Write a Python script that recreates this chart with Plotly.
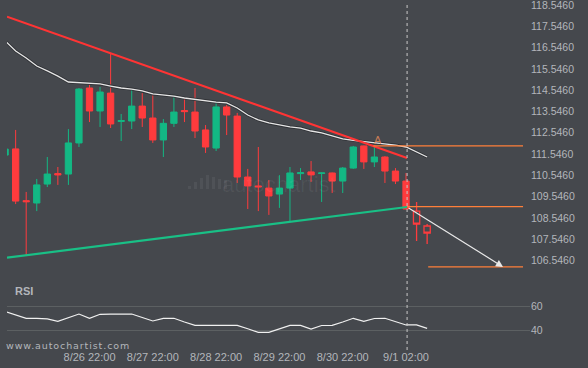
import plotly.graph_objects as go

# ---- data ----
idx = list(range(-8, 31))
opens = [111.50, 111.79, 109.36, 109.25, 110.14, 110.63, 110.61, 112.07, 114.65, 113.57,
         114.41, 113.08, 113.10, 113.80, 113.24, 112.21, 112.99, 113.59, 113.52, 112.68,
         111.83, 113.76, 113.33, 110.47, 110.05, 109.95, 109.67, 109.95, 110.63, 110.71,
         110.64, 110.66, 110.28, 110.89, 111.93, 111.18, 111.41, 110.75, 110.28]
highs = [111.80, 112.68, 109.77, 110.38, 111.41, 110.94, 112.72, 114.65, 114.84, 114.70,
         116.29, 113.43, 114.60, 114.41, 114.32, 113.19, 114.23, 114.13, 114.65, 112.91,
         113.95, 113.85, 113.48, 110.85, 111.88, 110.33, 110.56, 110.94, 110.89, 111.22,
         110.68, 110.68, 110.94, 111.93, 111.95, 111.88, 111.45, 110.89, 110.66]
lows = [111.45, 109.20, 106.76, 108.87, 110.00, 110.10, 110.10, 111.88, 113.05, 112.82,
        112.77, 112.16, 112.72, 112.82, 112.07, 111.41, 112.82, 113.05, 112.30, 111.60,
        111.69, 112.44, 110.19, 108.97, 108.87, 108.69, 109.02, 108.40, 110.33, 110.24,
        109.30, 109.72, 109.72, 110.85, 110.85, 110.94, 110.19, 110.14, 108.95]
closes = [111.78, 109.34, 109.31, 110.10, 110.61, 110.57, 112.07, 114.60, 113.57, 114.46,
          112.96, 113.12, 113.80, 113.24, 112.21, 112.99, 113.52, 113.54, 112.63, 111.88,
          113.76, 113.38, 110.47, 110.05, 110.01, 109.58, 109.95, 110.66, 110.67, 110.57,
          110.66, 110.28, 110.89, 111.88, 111.18, 111.41, 110.75, 110.28, 108.97]

fc_idx = [31, 32]
fc_open = [108.87, 108.17]
fc_high = [109.30, 108.26]
fc_low = [107.47, 107.33]
fc_close = [108.26, 107.84]

ma_idx = list(range(-8, 33))
ma_vals = [116.86, 116.39, 116.06, 115.68, 115.45, 115.21, 114.93, 114.91, 114.88, 114.84,
           114.74, 114.65, 114.60, 114.51, 114.37, 114.32, 114.27, 114.18, 114.11, 114.04,
           113.99, 113.95, 113.71, 113.38, 113.15, 113.01, 112.91, 112.82, 112.77, 112.63,
           112.54, 112.40, 112.26, 112.19, 112.14, 112.09, 112.04, 111.97, 111.88, 111.64, 111.41]

rsi_vals = [55.4, 52.5, 49.75, 49.75, 49.3, 47.25, 50.4, 53.3, 49.75, 53.1,
            53.3, 53.3, 53.3, 50.4, 47.5, 49.75, 49.75, 46.7, 43.9, 43.9,
            43.9, 43.9, 43.9, 41.0, 38.1, 38.1, 40.8, 43.9, 43.9, 40.8,
            43.75, 43.9, 46.7, 49.75, 47.25, 49.6, 49.75, 47.25, 44.2, 44.2, 41.4]

res_x = [-7.82, 30.1]
res_y = [117.997, 111.363]
sup_x = [-7.82, 30.1]
sup_y = [106.682, 109.062]

level_starts = [26.9, 30.1, 32.1]
level_end = 41.09
level_vals = [111.93, 109.08, 106.25]

arrow_start = (30.1, 109.06)
arrow_end = (39.2, 106.25)
label_A = (27.35, 112.21)
now_idx = 30.1

tick_idx = [0, 6, 12, 18, 24, 30]
tick_text = ["8/26 22:00", "8/27 22:00", "8/28 22:00", "8/29 22:00", "8/30 22:00", "9/1 02:00"]
price_ticks = [106.546 + k for k in range(13)]
rsi_ticks = [40, 60]

# ---- style ----
BG = "#45484d"
GREEN = "#13b884"
RED = "#ff3b3d"
ORANGE = "#ff7f3a"
TXT = "#b3b6bb"
FONT = "Liberation Sans, Arial, sans-serif"
W, H = 588, 368

fig = go.Figure()

fig.add_trace(go.Candlestick(
    x=idx, open=opens, high=highs, low=lows, close=closes,
    increasing=dict(line=dict(color=GREEN, width=1), fillcolor=GREEN),
    decreasing=dict(line=dict(color=RED, width=1), fillcolor=RED),
    xaxis="x", yaxis="y", hoverinfo="skip", showlegend=False))

fig.add_trace(go.Candlestick(
    x=fc_idx, open=fc_open, high=fc_high, low=fc_low, close=fc_close,
    increasing=dict(line=dict(color=RED, width=1.3), fillcolor=BG),
    decreasing=dict(line=dict(color=RED, width=1.3), fillcolor=BG),
    xaxis="x", yaxis="y", hoverinfo="skip", showlegend=False))

fig.add_trace(go.Scatter(x=ma_idx, y=ma_vals, mode="lines",
                         line=dict(color="#2f3135", width=3),
                         xaxis="x", yaxis="y", hoverinfo="skip", showlegend=False))
fig.add_trace(go.Scatter(x=ma_idx, y=ma_vals, mode="lines",
                         line=dict(color="#e6e6e6", width=1.3),
                         xaxis="x", yaxis="y", hoverinfo="skip", showlegend=False))

fig.add_trace(go.Scatter(x=res_x, y=res_y, mode="lines",
                         line=dict(color="#ff3434", width=2.2),
                         xaxis="x", yaxis="y", hoverinfo="skip", showlegend=False))
fig.add_trace(go.Scatter(x=sup_x, y=sup_y, mode="lines",
                         line=dict(color="#19c086", width=2.2),
                         xaxis="x", yaxis="y", hoverinfo="skip", showlegend=False))

for s, v in zip(level_starts, level_vals):
    fig.add_trace(go.Scatter(x=[s, level_end], y=[v, v], mode="lines",
                             line=dict(color=ORANGE, width=1.3),
                             xaxis="x", yaxis="y", hoverinfo="skip", showlegend=False))

fig.add_trace(go.Scatter(x=ma_idx, y=rsi_vals, mode="lines",
                         line=dict(color="#f0f0f0", width=1.2),
                         xaxis="x2", yaxis="y2", hoverinfo="skip", showlegend=False))

# arrow
fig.add_annotation(x=arrow_end[0], y=arrow_end[1], ax=arrow_start[0], ay=arrow_start[1],
                   xref="x", yref="y", axref="x", ayref="y", text="",
                   showarrow=True, arrowhead=2, arrowsize=1.2, arrowwidth=1.2,
                   arrowcolor="#e8e8e8")
fig.add_annotation(x=label_A[0], y=label_A[1], xref="x", yref="y", text="A",
                   showarrow=False, font=dict(family=FONT, size=11, color="rgba(235,140,90,0.8)"))

# watermark
fig.add_annotation(x=279 / W, y=1 - 185 / H, xref="paper", yref="paper", text="autochartist",
                   xanchor="center", yanchor="middle",
                   showarrow=False, font=dict(family=FONT, size=22, color="rgba(255,255,255,0.06)"))
bar_h = [3, 7, 11, 14, 12, 10, 9]
for k, hgt in enumerate(bar_h):
    x0 = 188 + k * 6
    fig.add_shape(type="rect", xref="paper", yref="paper",
                  x0=x0 / W, x1=(x0 + 3) / W, y0=1 - 189 / H, y1=1 - (189 - hgt) / H,
                  line=dict(width=0), fillcolor="rgba(255,255,255,0.06)", layer="below")

# vertical "now" line
fig.add_shape(type="line", xref="x", yref="paper", x0=now_idx, x1=now_idx,
              y0=1 - 350 / H, y1=1 - 4 / H,
              line=dict(color="#c8c8c8", width=1, dash="3px,3px"))

fig.add_annotation(x=13 / W, y=1 - 291 / H, xref="paper", yref="paper", text="<b>RSI</b>",
                   xanchor="left", yanchor="middle", showarrow=False,
                   font=dict(family=FONT, size=11, color=TXT))
fig.add_annotation(x=4 / W, y=1 - 345 / H, xref="paper", yref="paper",
                   text='<span style="letter-spacing:0.9px">www.autochartist.com</span>',
                   xanchor="left", yanchor="middle", showarrow=False,
                   font=dict(family="DejaVu Sans, sans-serif", size=9.5, color=TXT))

xr = [-7.82, 41.75]
xdom = [7 / W, 530 / W]
fig.update_layout(
    width=W, height=H, margin=dict(l=0, r=0, t=0, b=0),
    paper_bgcolor=BG, plot_bgcolor=BG, showlegend=False,
    boxgap=0.15,
    font=dict(family=FONT, size=11, color=TXT),
    xaxis=dict(domain=xdom, range=xr, anchor="y", showticklabels=False, showgrid=False,
               zeroline=False, showline=False, rangeslider=dict(visible=False), fixedrange=True),
    xaxis2=dict(domain=xdom, range=xr, anchor="y2", tickvals=tick_idx, ticktext=tick_text,
                showgrid=False, zeroline=False, showline=False, ticks="",
                ticklabelstandoff=4, ticklabeloverflow="allow",
                tickfont=dict(family=FONT, size=11, color=TXT),
                rangeslider=dict(visible=False), fixedrange=True),
    yaxis=dict(domain=[1 - 280 / H, 1], range=[105.635, 118.781], anchor="x", side="right",
               tickvals=price_ticks, ticktext=["%.4f" % v for v in price_ticks],
               showgrid=False, zeroline=False, showline=False, ticks="",
               ticklabeloverflow="allow",
               tickfont=dict(family=FONT, size=10.5, color=TXT), fixedrange=True),
    yaxis2=dict(domain=[1 - 345 / H, 1 - 290 / H], range=[27.5, 73.33], anchor="x2", side="right",
                tickvals=rsi_ticks, showgrid=True, gridcolor="#5c6062", gridwidth=1,
                zeroline=False, showline=False, ticks="", ticklabeloverflow="allow",
                tickfont=dict(family=FONT, size=10.5, color=TXT), fixedrange=True),
)

fig.write_html("out.html", config=dict(displayModeBar=False),
               post_script="document.body.style.margin='0px';document.body.style.overflow='hidden';")
